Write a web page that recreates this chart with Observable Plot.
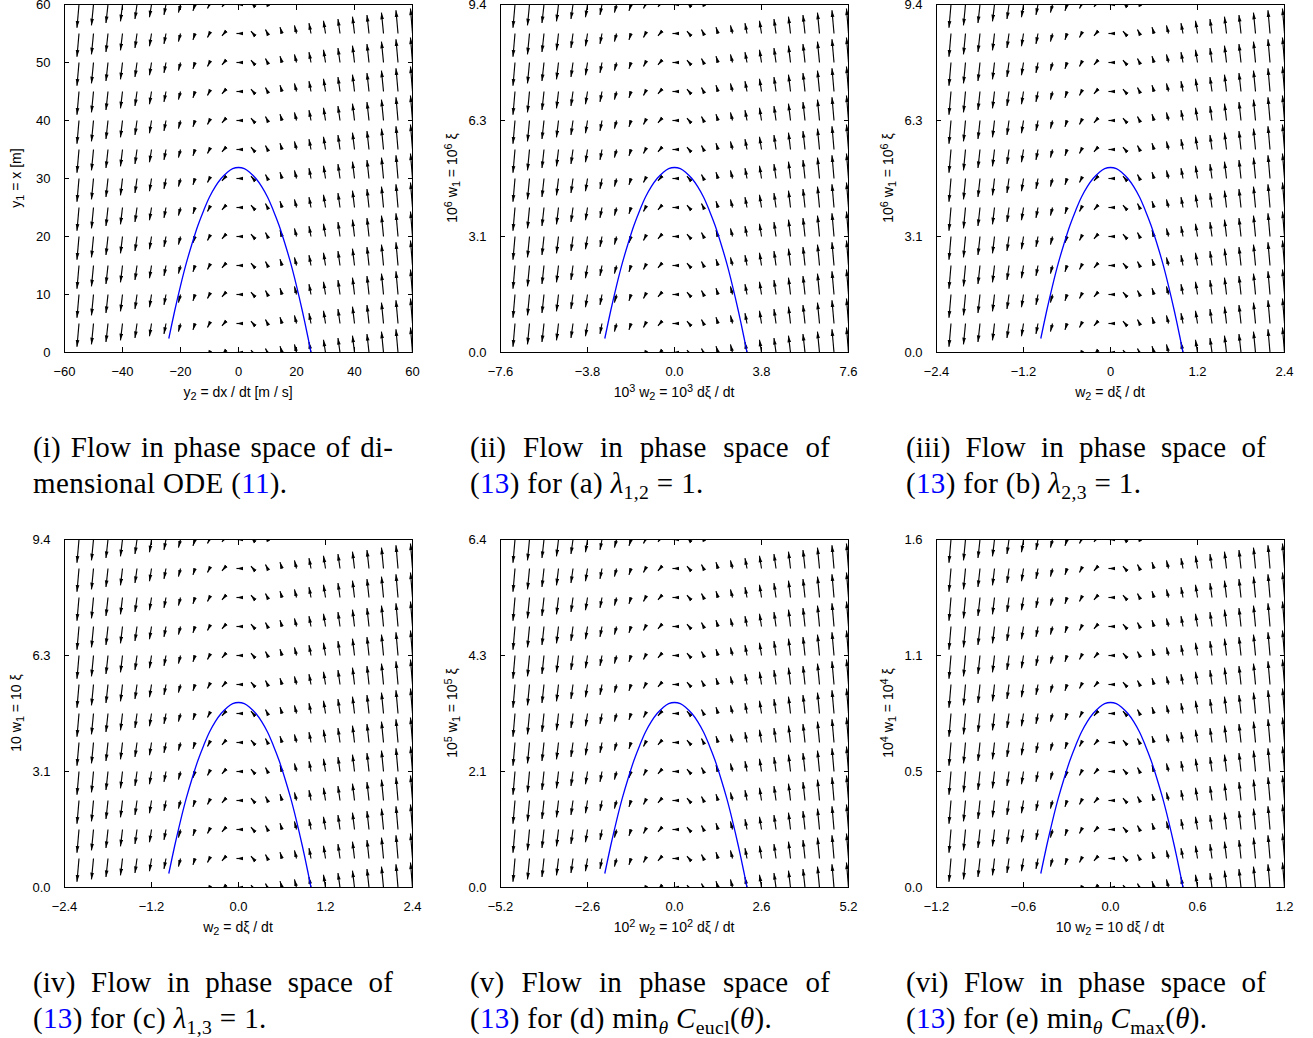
<!DOCTYPE html>
<html>
<head>
<meta charset="utf-8">
<script src="https://cdn.jsdelivr.net/npm/d3@7"></script>
<script src="https://cdn.jsdelivr.net/npm/@observablehq/plot@0.6"></script>
<style>
  html, body { margin: 0; padding: 0; background: #fff; }
  #fig { position: relative; width: 1313px; height: 1038px; overflow: hidden; }
  .panel { position: absolute; }
  .cap { position: absolute; width: 360px; font-family: "Liberation Serif", "Times New Roman", serif; font-size: 29px; line-height: 36px; color: #000; letter-spacing: 0.35px; }
  .cap .l1 { text-align: justify; text-align-last: justify; white-space: nowrap; letter-spacing: 0.2px; }
  .cap .l2 { text-align: left; white-space: nowrap; }
  .cap .ref { color: #0000ff; }
  .cap sub { font-size: 68%; line-height: 0; vertical-align: -0.28em; }
  .alab { position: absolute; font-family: "Liberation Sans", Arial, Helvetica, sans-serif; font-size: 14px; color: #000; white-space: nowrap; line-height: 16px; transform: translate(-50%, -50%); }
  .alab.rot { transform: translate(-50%, -50%) rotate(-90deg); }
  .alab sub, .alab sup { font-size: 78%; line-height: 0; }
  .alab sub { vertical-align: -0.3em; }
  .alab sup { vertical-align: 0.45em; }
</style>
</head>
<body>
<div id="fig"></div>
<script>
// ---- vector field grid (panel (i) units: y2 = dx/dt [m/s], y1 = x [m]) ----
const colY2 = [-60,-55,-50,-45,-40,-35,-30,-25,-20,-15,-10,-5,0,5,10,15,20,25,30,35,40,45,50,55,60];
const rowY1 = [0,5,10,15,20,25,30,35,40,45,50,55,60];
// arrow components per column (same for every row)
const arrowDY2 = [-0.7,-0.7,-0.7,-0.7,-0.7,-0.7,-0.7,-0.7,-0.7,-0.7,-0.7,-0.7,-0.7,-0.7,-0.7,-0.7,-0.7,-0.7,-0.7,-0.7,-0.7,-0.7,-0.7,-0.7,-0.7];
const arrowDY1 = [-4.3,-4.0,-3.6,-3.2,-2.9,-2.5,-2.2,-1.8,-1.4,-1.1,-0.7,-0.4,0,0.4,0.7,1.1,1.4,1.8,2.2,2.5,2.9,3.2,3.6,4.0,4.3];
// blue trajectory (panel (i) units)
const trajY2 = [25,24,22,20,18,16,14,12,10,8,6,4,2,0,-2,-4,-6,-8,-10,-12,-14,-16,-18,-20,-22,-24];
const trajY1 = [0,2.5,7.2,11.5,15.4,18.8,21.9,24.5,26.8,28.6,30.0,31.0,31.7,31.9,31.7,31.0,30.0,28.6,26.8,24.5,21.9,18.8,15.4,11.5,7.2,2.5];

// ---- panels ----
const xMax = [60, 7.6, 2.4, 2.4, 5.2, 1.2];
const yMax = [60, 9.4, 9.4, 9.4, 6.4, 1.6];
const xTickLabels = [
  ["−60","−40","−20","0","20","40","60"],
  ["−7.6","−3.8","0.0","3.8","7.6"],
  ["−2.4","−1.2","0","1.2","2.4"],
  ["−2.4","−1.2","0.0","1.2","2.4"],
  ["−5.2","−2.6","0.0","2.6","5.2"],
  ["−1.2","−0.6","0.0","0.6","1.2"]
];
const yTickLabels = [
  ["0","10","20","30","40","50","60"],
  ["0.0","3.1","6.3","9.4"],
  ["0.0","3.1","6.3","9.4"],
  ["0.0","3.1","6.3","9.4"],
  ["0.0","2.1","4.3","6.4"],
  ["0.0","0.5","1.1","1.6"]
];
const xLabels = [
  "y<sub>2</sub> = dx / dt [m / s]",
  "10<sup>3</sup> w<sub>2</sub> = 10<sup>3</sup> dξ / dt",
  "w<sub>2</sub> = dξ / dt",
  "w<sub>2</sub> = dξ / dt",
  "10<sup>2</sup> w<sub>2</sub> = 10<sup>2</sup> dξ / dt",
  "10 w<sub>2</sub> = 10 dξ / dt"
];
const yLabels = [
  "y<sub>1</sub> = x [m]",
  "10<sup>6</sup> w<sub>1</sub> = 10<sup>6</sup> ξ",
  "10<sup>6</sup> w<sub>1</sub> = 10<sup>6</sup> ξ",
  "10 w<sub>1</sub> = 10 ξ",
  "10<sup>5</sup> w<sub>1</sub> = 10<sup>5</sup> ξ",
  "10<sup>4</sup> w<sub>1</sub> = 10<sup>4</sup> ξ"
];
const captionLine1 = [
  "(i) Flow in phase space of di-",
  "(ii) Flow in phase space of",
  "(iii) Flow in phase space of",
  "(iv) Flow in phase space of",
  "(v) Flow in phase space of",
  "(vi) Flow in phase space of"
];
const captionLine2 = [
  'mensional ODE (<span class="ref">11</span>).',
  '(<span class="ref">13</span>) for (a) <i>λ</i><sub>1,2</sub> = 1.',
  '(<span class="ref">13</span>) for (b) <i>λ</i><sub>2,3</sub> = 1.',
  '(<span class="ref">13</span>) for (c) <i>λ</i><sub>1,3</sub> = 1.',
  '(<span class="ref">13</span>) for (d) min<sub><i>θ</i></sub> <i>C</i><sub>eucl</sub>(<i>θ</i>).',
  '(<span class="ref">13</span>) for (e) min<sub><i>θ</i></sub> <i>C</i><sub>max</sub>(<i>θ</i>).'
];

const fig = document.getElementById("fig");
const PW = 436, PH = 402, ML = 64, MT = 4, MR = 24, MB = 50, FW = 348, FH = 348;
const panelLeft = [0, 436, 872];
const rowTop = [0, 535];

function evenTicks(lo, hi, n) {
  return d3.range(n).map(i => lo + (hi - lo) * i / (n - 1));
}

for (let k = 0; k < 6; k++) {
  const sx = xMax[k] / 60, sy = yMax[k] / 60;
  const arrows = [];
  colY2.forEach((c, i) => rowY1.forEach(r => {
    const x1 = c * sx, y1 = r * sy;
    arrows.push({x1, y1, x2: x1 + arrowDY2[i] * sx, y2: y1 + arrowDY1[i] * sy});
  }));
  const traj = trajY2.map((v, i) => ({x: v * sx, y: trajY1[i] * sy}));
  const xt = evenTicks(-xMax[k], xMax[k], xTickLabels[k].length);
  const yt = evenTicks(0, yMax[k], yTickLabels[k].length);
  const xl = xTickLabels[k], yl = yTickLabels[k];

  const svg = Plot.plot({
    width: PW, height: PH,
    marginLeft: ML, marginRight: MR, marginTop: MT, marginBottom: MB,
    x: {domain: [-xMax[k], xMax[k]], axis: null},
    y: {domain: [0, yMax[k]], axis: null},
    style: {fontFamily: "'Liberation Sans', Arial, Helvetica, sans-serif", fontSize: "13px", color: "#000", background: "transparent", overflow: "visible"},
    marks: [
      Plot.link(arrows, {x1: "x1", y1: "y1", x2: "x2", y2: "y2", stroke: "#000", strokeWidth: 1.15, markerEnd: "arrow", clip: true}),
      Plot.line(traj, {x: "x", y: "y", stroke: "#0000ff", strokeWidth: 1.3, curve: "catmull-rom", clip: true}),
      Plot.frame({stroke: "#000", strokeWidth: 1}),
      Plot.axisX({anchor: "bottom", ticks: xt, tickFormat: d => xl[xt.indexOf(d)], tickSize: -5, tickPadding: 19.5, label: null, fontSize: 13}),
      Plot.axisX({anchor: "top", ticks: xt, tickFormat: () => "", tickSize: -5, label: null}),
      Plot.axisY({anchor: "left", ticks: yt, tickFormat: d => yl[yt.indexOf(d)], tickSize: -5, tickPadding: 19, label: null, fontSize: 13}),
      Plot.axisY({anchor: "right", ticks: yt, tickFormat: () => "", tickSize: -5, label: null})
    ]
  });
  // gnuplot-style narrow filled arrowheads
  svg.querySelectorAll("marker").forEach(m => {
    m.setAttribute("viewBox", "-6 -2 7 4");
    m.setAttribute("markerWidth", "7");
    m.setAttribute("markerHeight", "4");
    m.setAttribute("fill", "#000");
    m.setAttribute("stroke", "none");
    m.innerHTML = "";
    const p = document.createElementNS("http://www.w3.org/2000/svg", "path");
    p.setAttribute("d", "M-5.8,-1.6L0,0L-5.8,1.6Z");
    p.setAttribute("fill", "#000");
    p.setAttribute("stroke", "none");
    m.appendChild(p);
  });
  const col = k % 3, row = Math.floor(k / 3);
  const left = panelLeft[col], top = rowTop[row];
  const wrap = document.createElement("div");
  wrap.className = "panel";
  wrap.style.left = left + "px";
  wrap.style.top = top + "px";
  wrap.appendChild(svg);
  fig.appendChild(wrap);

  // axis titles (with real sub/superscripts)
  const xa = document.createElement("div");
  xa.className = "alab";
  xa.style.left = (left + ML + FW / 2) + "px";
  xa.style.top = (top + MT + FH + 40) + "px";
  xa.innerHTML = xLabels[k];
  fig.appendChild(xa);
  const ya = document.createElement("div");
  ya.className = "alab rot";
  ya.style.left = (left + ML - 48) + "px";
  ya.style.top = (top + MT + FH / 2) + "px";
  ya.innerHTML = yLabels[k];
  fig.appendChild(ya);

  const cap = document.createElement("div");
  cap.className = "cap";
  cap.style.left = (left + 33 + (col === 0 ? 0 : 1)) + "px";
  cap.style.top = (top + 429) + "px";
  const l1 = document.createElement("div");
  l1.className = "l1";
  l1.textContent = captionLine1[k];
  const l2 = document.createElement("div");
  l2.className = "l2";
  l2.innerHTML = captionLine2[k];
  cap.appendChild(l1);
  cap.appendChild(l2);
  fig.appendChild(cap);
}
</script>
</body>
</html>
